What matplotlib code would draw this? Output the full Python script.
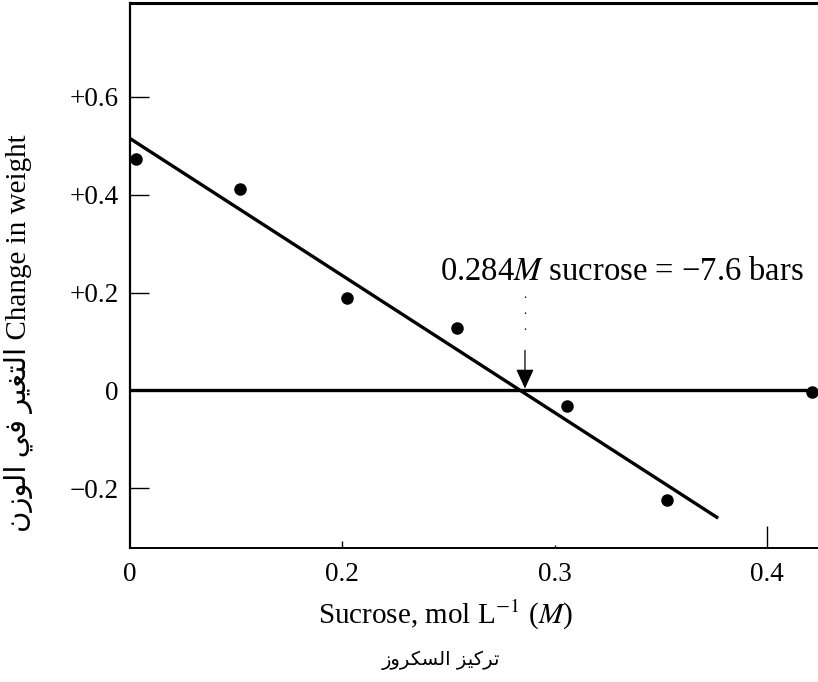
import matplotlib
matplotlib.use("Agg")
import matplotlib.pyplot as plt

plt.rcParams['font.family'] = ['Liberation Serif', 'DejaVu Sans']
plt.rcParams['mathtext.fontset'] = 'stix'

# data
sucrose = [0.103, 0.152, 0.202, 0.254, 0.306, 0.353, 0.421]
weight_change = [0.473, 0.412, 0.188, 0.127, -0.031, -0.224, -0.004]
fit_x = [0.10, 0.377]
fit_y = [0.515, -0.261]
intercept_x = 0.286
xticks = [0.10, 0.20, 0.30, 0.40]
xtick_labels = ['0', '0.2', '0.3', '0.4']
yticks = [0.6, 0.4, 0.2, 0.0, -0.2]
ytick_labels = ['+0.6', '+0.4', '+0.2', '0', '\u22120.2']

# Arabic labels (presentation forms, visual order)
ar_ylabel = '\ufee5\ufeaf\ufeee\ufedf\ufe8d \ufef2\ufed3 \ufeae\ufef4\ufed0\ufe98\ufedf\ufe8d'
ar_xlabel = '\ufeaf\ufeed\ufeae\ufedc\ufeb4\ufedf\ufe8d \ufeb0\ufef4\ufedb\ufeae\ufe97'

fig = plt.figure(figsize=(8.18, 6.82), dpi=100)
ax = fig.add_axes([130/818, 1-548/682, 1-130/818, (548-3)/682])
ax.set_xlim(0.10, 0.424)
ax.set_ylim(-0.322, 0.792)

ax.spines['right'].set_visible(False)
ax.spines['left'].set_linewidth(1.6)
ax.spines['bottom'].set_linewidth(1.4)
ax.spines['top'].set_linewidth(2.2)

ax.axhline(0, xmin=0, xmax=0.981, color='black', lw=2.4)
ax.plot(fit_x, fit_y, color='black', lw=2.4, solid_capstyle='butt')
ax.plot(sucrose, weight_change, 'o', color='black', ms=8, clip_on=True)

# arrow to the intercept
ax.plot([intercept_x, intercept_x], [0.194, 0.122], color='black', lw=1.0,
        ls=(0, (1, 10.5)))
ax.annotate('', xy=(intercept_x, 0.004), xytext=(intercept_x, 0.082),
            arrowprops=dict(arrowstyle='-|>,head_length=1.2,head_width=0.55',
                            color='black', lw=0.9, shrinkA=0, shrinkB=0))
ax.text(0.3317, 0.243, '0.284$M$ sucrose = \u22127.6 bars', ha='center', va='center',
        fontsize=23.5)

ax.set_xticks(xticks)
ax.set_xticklabels(xtick_labels)
ax.set_yticks(yticks)
ax.set_yticklabels(ytick_labels)
ax.tick_params(axis='y', direction='in', length=14, width=1.0, labelsize=19.5, pad=8)
ax.tick_params(axis='x', direction='in', length=5, width=1.0, labelsize=19.5, pad=10)
xt = ax.xaxis.get_major_ticks()
xt[0].tick1line.set_markersize(0)
xt[2].tick1line.set_markersize(2)
xt[3].tick1line.set_markersize(16)

fig.text(0.022, 1-333/682, ar_ylabel + ' Change in weight', rotation=90,
         ha='center', va='center', fontsize=21)
fig.text(445/818, 1-615/682, 'Sucrose, mol L$^{-1}$ ($M$)', ha='center', va='center',
         fontsize=21)
fig.text(441/818, 1-660/682, ar_xlabel, ha='center', va='center', fontsize=14,
         family=['DejaVu Sans'])

fig.savefig('out.png', dpi=100)
